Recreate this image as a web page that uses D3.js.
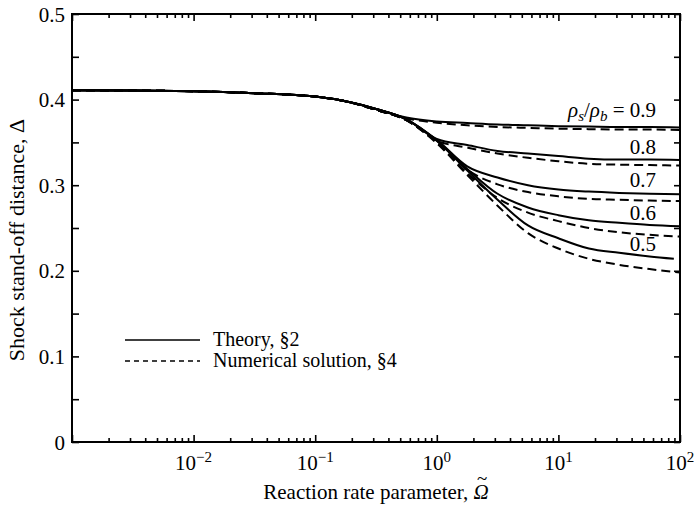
<!DOCTYPE html>
<html>
<head>
<meta charset="utf-8">
<script src="https://cdn.jsdelivr.net/npm/d3@7"></script>
<style>
  html, body { margin: 0; padding: 0; background: #fff; }
  svg { display: block; }
</style>
</head>
<body>
<svg id="chart" width="694" height="507"></svg>
<script>
// Reaction rate parameter (log-spaced sample points)
const omega = [0.001, 0.00316, 0.01, 0.0316, 0.1, 0.178, 0.316, 0.562, 1, 1.78, 3.16, 5.62, 10, 17.8, 31.6, 56.2, 100];
const omegaShort = [0.001, 0.00316, 0.01, 0.0316, 0.1, 0.178, 0.316, 0.562, 1, 1.78, 3.16, 5.62, 10, 17.8, 31.6, 56.2, 89];

// Density ratios rho_s / rho_b
const ratios = [0.9, 0.8, 0.7, 0.6, 0.5];

// Theory, section 2 (solid)
const theory09 = [0.411, 0.4105, 0.4098, 0.4075, 0.4035, 0.398, 0.389, 0.379, 0.3745, 0.3727, 0.371, 0.370, 0.369, 0.3685, 0.368, 0.368, 0.3675];
const theory08 = [0.411, 0.4105, 0.4098, 0.4075, 0.4035, 0.398, 0.389, 0.377, 0.354, 0.347, 0.340, 0.337, 0.334, 0.331, 0.330, 0.330, 0.3295];
const theory07 = [0.411, 0.4105, 0.4098, 0.4075, 0.4035, 0.398, 0.389, 0.377, 0.353, 0.322, 0.309, 0.300, 0.295, 0.2925, 0.291, 0.290, 0.2895];
const theory06 = [0.411, 0.4105, 0.4098, 0.4075, 0.4035, 0.398, 0.389, 0.377, 0.352, 0.319, 0.290, 0.274, 0.265, 0.259, 0.256, 0.2535, 0.252];
const theory05 = [0.411, 0.4105, 0.4098, 0.4075, 0.4035, 0.398, 0.389, 0.377, 0.352, 0.317, 0.283, 0.253, 0.238, 0.226, 0.221, 0.2167, 0.214];

// Numerical solution, section 4 (dashed)
const numeric09 = [0.411, 0.4105, 0.4098, 0.4075, 0.4035, 0.398, 0.388, 0.378, 0.373, 0.370, 0.368, 0.367, 0.366, 0.3655, 0.365, 0.365, 0.3645];
const numeric08 = [0.411, 0.4105, 0.4098, 0.4075, 0.4035, 0.398, 0.388, 0.376, 0.352, 0.344, 0.337, 0.332, 0.328, 0.325, 0.324, 0.3235, 0.323];
const numeric07 = [0.411, 0.4105, 0.4098, 0.4075, 0.4035, 0.398, 0.388, 0.376, 0.351, 0.318, 0.301, 0.292, 0.287, 0.284, 0.283, 0.282, 0.2815];
const numeric06 = [0.411, 0.4105, 0.4098, 0.4075, 0.4035, 0.398, 0.388, 0.376, 0.350, 0.314, 0.285, 0.268, 0.258, 0.250, 0.245, 0.242, 0.240];
const numeric05 = [0.411, 0.4105, 0.4098, 0.4075, 0.4035, 0.398, 0.388, 0.376, 0.349, 0.312, 0.276, 0.244, 0.226, 0.214, 0.207, 0.202, 0.198];

const xLabelExponents = [-2, -1, 0, 1, 2];
const yTickLabels = [0, 0.1, 0.2, 0.3, 0.4, 0.5];

const serif = "'Liberation Serif', 'DejaVu Serif', serif";
const svg = d3.select("#chart").attr("font-family", serif);
const plotL = 72, plotR = 680, plotT = 14, plotB = 442;

const x = d3.scaleLog().domain([1e-3, 1e2]).range([plotL, plotR]);
const y = d3.scaleLinear().domain([0, 0.5]).range([plotB, plotT]);

const series = [
  { xs: omega, ys: theory09, dashed: false },
  { xs: omega, ys: theory08, dashed: false },
  { xs: omega, ys: theory07, dashed: false },
  { xs: omega, ys: theory06, dashed: false },
  { xs: omegaShort, ys: theory05, dashed: false },
  { xs: omega, ys: numeric09, dashed: true },
  { xs: omega, ys: numeric08, dashed: true },
  { xs: omega, ys: numeric07, dashed: true },
  { xs: omega, ys: numeric06, dashed: true },
  { xs: omega, ys: numeric05, dashed: true }
];

const line = d3.line()
  .x(d => x(d[0]))
  .y(d => y(d[1]))
  .curve(d3.curveMonotoneX);

svg.append("g").selectAll("path")
  .data(series)
  .join("path")
  .attr("d", s => line(s.xs.map((w, i) => [w, s.ys[i]])))
  .attr("fill", "none")
  .attr("stroke", "#000")
  .attr("stroke-width", 2)
  .attr("stroke-dasharray", s => s.dashed ? "9,5" : null);

// Axis ticks (all pointing inward)
const majorX = [1e-3, 1e-2, 1e-1, 1, 10, 100];
const minorX = [];
for (let e = -3; e < 2; e++) for (let k = 2; k <= 9; k++) minorX.push(k * Math.pow(10, e));
const yTicks = d3.range(0, 0.5001, 0.05);

function styleAxis(g) {
  g.select(".domain").remove();
  g.selectAll(".tick line").attr("stroke", "#000").attr("stroke-width", 1.6);
  g.selectAll(".tick text").remove();
}

svg.append("g").attr("transform", `translate(0,${plotB})`)
  .call(d3.axisBottom(x).tickValues(majorX).tickSize(-7)).call(styleAxis);
svg.append("g").attr("transform", `translate(0,${plotB})`)
  .call(d3.axisBottom(x).tickValues(minorX).tickSize(-4)).call(styleAxis);
svg.append("g").attr("transform", `translate(0,${plotT})`)
  .call(d3.axisTop(x).tickValues(majorX).tickSize(-7)).call(styleAxis);
svg.append("g").attr("transform", `translate(0,${plotT})`)
  .call(d3.axisTop(x).tickValues(minorX).tickSize(-4)).call(styleAxis);
svg.append("g").attr("transform", `translate(${plotL},0)`)
  .call(d3.axisLeft(y).tickValues(yTicks).tickSize(-7)).call(styleAxis);
svg.append("g").attr("transform", `translate(${plotR},0)`)
  .call(d3.axisRight(y).tickValues(yTicks).tickSize(-6)).call(styleAxis);

// Frame
svg.append("rect")
  .attr("x", plotL).attr("y", plotT)
  .attr("width", plotR - plotL).attr("height", plotB - plotT)
  .attr("fill", "none").attr("stroke", "#000").attr("stroke-width", 2);

// Y tick labels
svg.append("g").selectAll("text")
  .data(yTickLabels)
  .join("text")
  .attr("x", plotL - 7)
  .attr("y", d => y(d))
  .attr("dy", "0.36em")
  .attr("text-anchor", "end")
  .attr("font-size", 21)
  .text(d => d === 0 ? "0" : d.toFixed(1));

// X tick labels: powers of ten
const xl = svg.append("g").selectAll("text")
  .data(xLabelExponents)
  .join("text")
  .attr("x", d => x(Math.pow(10, d)))
  .attr("y", 470)
  .attr("text-anchor", "middle")
  .attr("font-size", 21);
xl.append("tspan").text("10");
xl.append("tspan")
  .attr("font-size", 15)
  .attr("dy", -8)
  .text(d => (d < 0 ? "\u2212" : "") + Math.abs(d));

// X axis title, with a tilde set over the italic Omega
const xt = svg.append("text")
  .attr("x", (plotL + plotR) / 2)
  .attr("y", 499)
  .attr("text-anchor", "middle")
  .attr("font-size", 21);
xt.append("tspan").text("Reaction rate parameter, ");
const omegaSym = xt.append("tspan").attr("font-style", "italic").text("\u03A9");
const tilde = xt.append("tspan").attr("font-size", 19).attr("dy", -14).text("~");
{
  const wO = omegaSym.node().getComputedTextLength();
  const wT = tilde.node().getComputedTextLength();
  tilde.attr("dx", -(wO / 2 + wT / 2) + 1);
}

svg.append("text")
  .attr("transform", "translate(24,240) rotate(-90)")
  .attr("text-anchor", "middle")
  .attr("font-size", 22)
  .text("Shock stand-off distance, \u0394");

// Curve labels
const labelY = [117, 154, 187, 220, 251];
const lbl = svg.append("g").selectAll("text")
  .data(ratios)
  .join("text")
  .attr("x", 656)
  .attr("y", (d, i) => labelY[i])
  .attr("text-anchor", "end")
  .attr("font-size", 21);
lbl.each(function (d, i) {
  const t = d3.select(this);
  if (i === 0) {
    t.append("tspan").attr("font-style", "italic").text("\u03C1");
    t.append("tspan").attr("font-style", "italic").attr("font-size", 15).attr("dy", 4).text("s");
    t.append("tspan").attr("dy", -4).text("/");
    t.append("tspan").attr("font-style", "italic").text("\u03C1");
    t.append("tspan").attr("font-style", "italic").attr("font-size", 15).attr("dy", 4).text("b");
    t.append("tspan").attr("dy", -4).text(" = " + d.toFixed(1));
  } else {
    t.text(d.toFixed(1));
  }
});

// Legend
const legend = [
  { label: "Theory, \u00A72", dashed: false, y: 340 },
  { label: "Numerical solution, \u00A74", dashed: true, y: 361 }
];
const lg = svg.append("g");
lg.selectAll("line")
  .data(legend)
  .join("line")
  .attr("x1", 125).attr("x2", 200)
  .attr("y1", d => d.y).attr("y2", d => d.y)
  .attr("stroke", "#000")
  .attr("stroke-width", 1.3)
  .attr("stroke-dasharray", d => d.dashed ? "5,4" : null);
lg.selectAll("text")
  .data(legend)
  .join("text")
  .attr("x", 213)
  .attr("y", d => d.y + 6)
  .attr("font-size", 20)
  .text(d => d.label);
</script>
</body>
</html>
